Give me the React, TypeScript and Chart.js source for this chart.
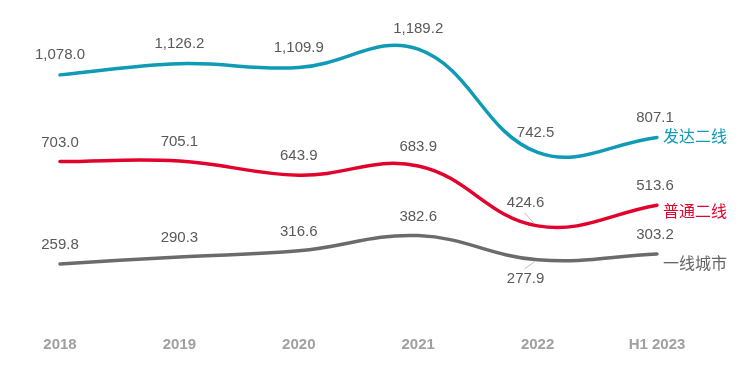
import React, { useEffect, useRef } from "react";
import { Chart, registerables } from "chart.js";

Chart.register(...registerables);

const categories = ["2018", "2019", "2020", "2021", "2022", "H1 2023"];
const seriesNames = ["发达二线", "普通二线", "一线城市"];
const developedSecondTier = [1078.0, 1126.2, 1109.9, 1189.2, 742.5, 807.1];
const ordinarySecondTier = [703.0, 705.1, 643.9, 683.9, 424.6, 513.6];
const firstTier = [259.8, 290.3, 316.6, 382.6, 277.9, 303.2];

const lineColors = ["#0f9ab5", "#e2032d", "#6b6b6b"];
const nameColors = ["#0f9ab5", "#e2032d", "#666666"];

const fmt = (v: number) =>
  v.toLocaleString("en-US", { minimumFractionDigits: 1, maximumFractionDigits: 1 });

// label offsets [dx, dy, leader?]
const labelOffsets: Array<Array<[number, number, boolean]>> = [
  [[0, -20, false], [0, -20, false], [0, -20, false], [0, -20, false], [-2, -20, false], [-2, -20, false]],
  [[0, -19, false], [0, -19, false], [0, -19, false], [0, -19, false], [-12, -23, true], [-2, -19, false]],
  [[0, -19, false], [0, -19, false], [0, -19, false], [0, -19, false], [-12, 19, true], [-2, -19, false]],
];
const nameOffsets: Array<[number, number]> = [
  [6, -2],
  [6, 6],
  [6, 9],
];

const labelPlugin = {
  id: "customLabels",
  afterDatasetsDraw(chart: any) {
    const ctx = chart.ctx;
    ctx.save();
    chart.data.datasets.forEach((ds: any, di: number) => {
      const meta = chart.getDatasetMeta(di);
      meta.data.forEach((pt: any, i: number) => {
        const [dx, dy, leader] = labelOffsets[di][i];
        const lx = pt.x + dx;
        const ly = pt.y + dy;
        if (leader) {
          ctx.strokeStyle = "#bfbfbf";
          ctx.lineWidth = 1;
          ctx.beginPath();
          const sy = dy < 0 ? ly + 10 : ly - 10;
          ctx.moveTo(lx - 1, sy);
          ctx.lineTo(pt.x - 3, pt.y + (dy < 0 ? -2 : 2));
          ctx.stroke();
        }
        ctx.font = '15px "Liberation Sans", Arial, sans-serif';
        ctx.fillStyle = "#595959";
        ctx.textAlign = "center";
        ctx.textBaseline = "middle";
        ctx.fillText(fmt(ds.data[i]), lx, ly);
      });
      const last = meta.data[meta.data.length - 1];
      const [nx, ny] = nameOffsets[di];
      ctx.font = '16px "Noto Sans CJK SC", sans-serif';
      ctx.fillStyle = nameColors[di];
      ctx.textAlign = "left";
      ctx.textBaseline = "middle";
      ctx.fillText(seriesNames[di], last.x + nx, last.y + ny);
    });
    ctx.restore();
  },
};

export default function App() {
  const ref = useRef<HTMLCanvasElement | null>(null);
  useEffect(() => {
    if (!ref.current) return;
    const data = [developedSecondTier, ordinarySecondTier, firstTier];
    const chart = new Chart(ref.current, {
      type: "line",
      data: {
        labels: categories,
        datasets: data.map((d, i) => ({
          label: seriesNames[i],
          data: d,
          borderColor: lineColors[i],
          backgroundColor: lineColors[i],
          borderWidth: 3.5,
          pointRadius: 0,
          tension: 0.4,
          fill: false,
          clip: false as any,
          borderCapStyle: "round" as const,
        })),
      },
      options: {
        animation: false,
        responsive: true,
        maintainAspectRatio: false,
        layout: { padding: { left: 60, right: 83, top: 0, bottom: 13 } },
        plugins: { legend: { display: false }, tooltip: { enabled: false } },
        scales: {
          x: {
            offset: false,
            grid: { display: false, drawTicks: false },
            border: { display: false },
            ticks: {
              padding: 12,
              color: "#a0a0a0",
              font: { family: '"Liberation Sans", Arial, sans-serif', size: 15, weight: "bold" },
              maxRotation: 0,
              autoSkip: false,
            },
          },
          y: { display: false, min: 0, max: 1402 },
        },
      },
      plugins: [labelPlugin],
    });
    return () => chart.destroy();
  }, []);
  return (
    <div style={{ position: "fixed", left: 0, top: 0, width: 740, height: 379, background: "#fff" }}>
      <canvas ref={ref} />
    </div>
  );
}
